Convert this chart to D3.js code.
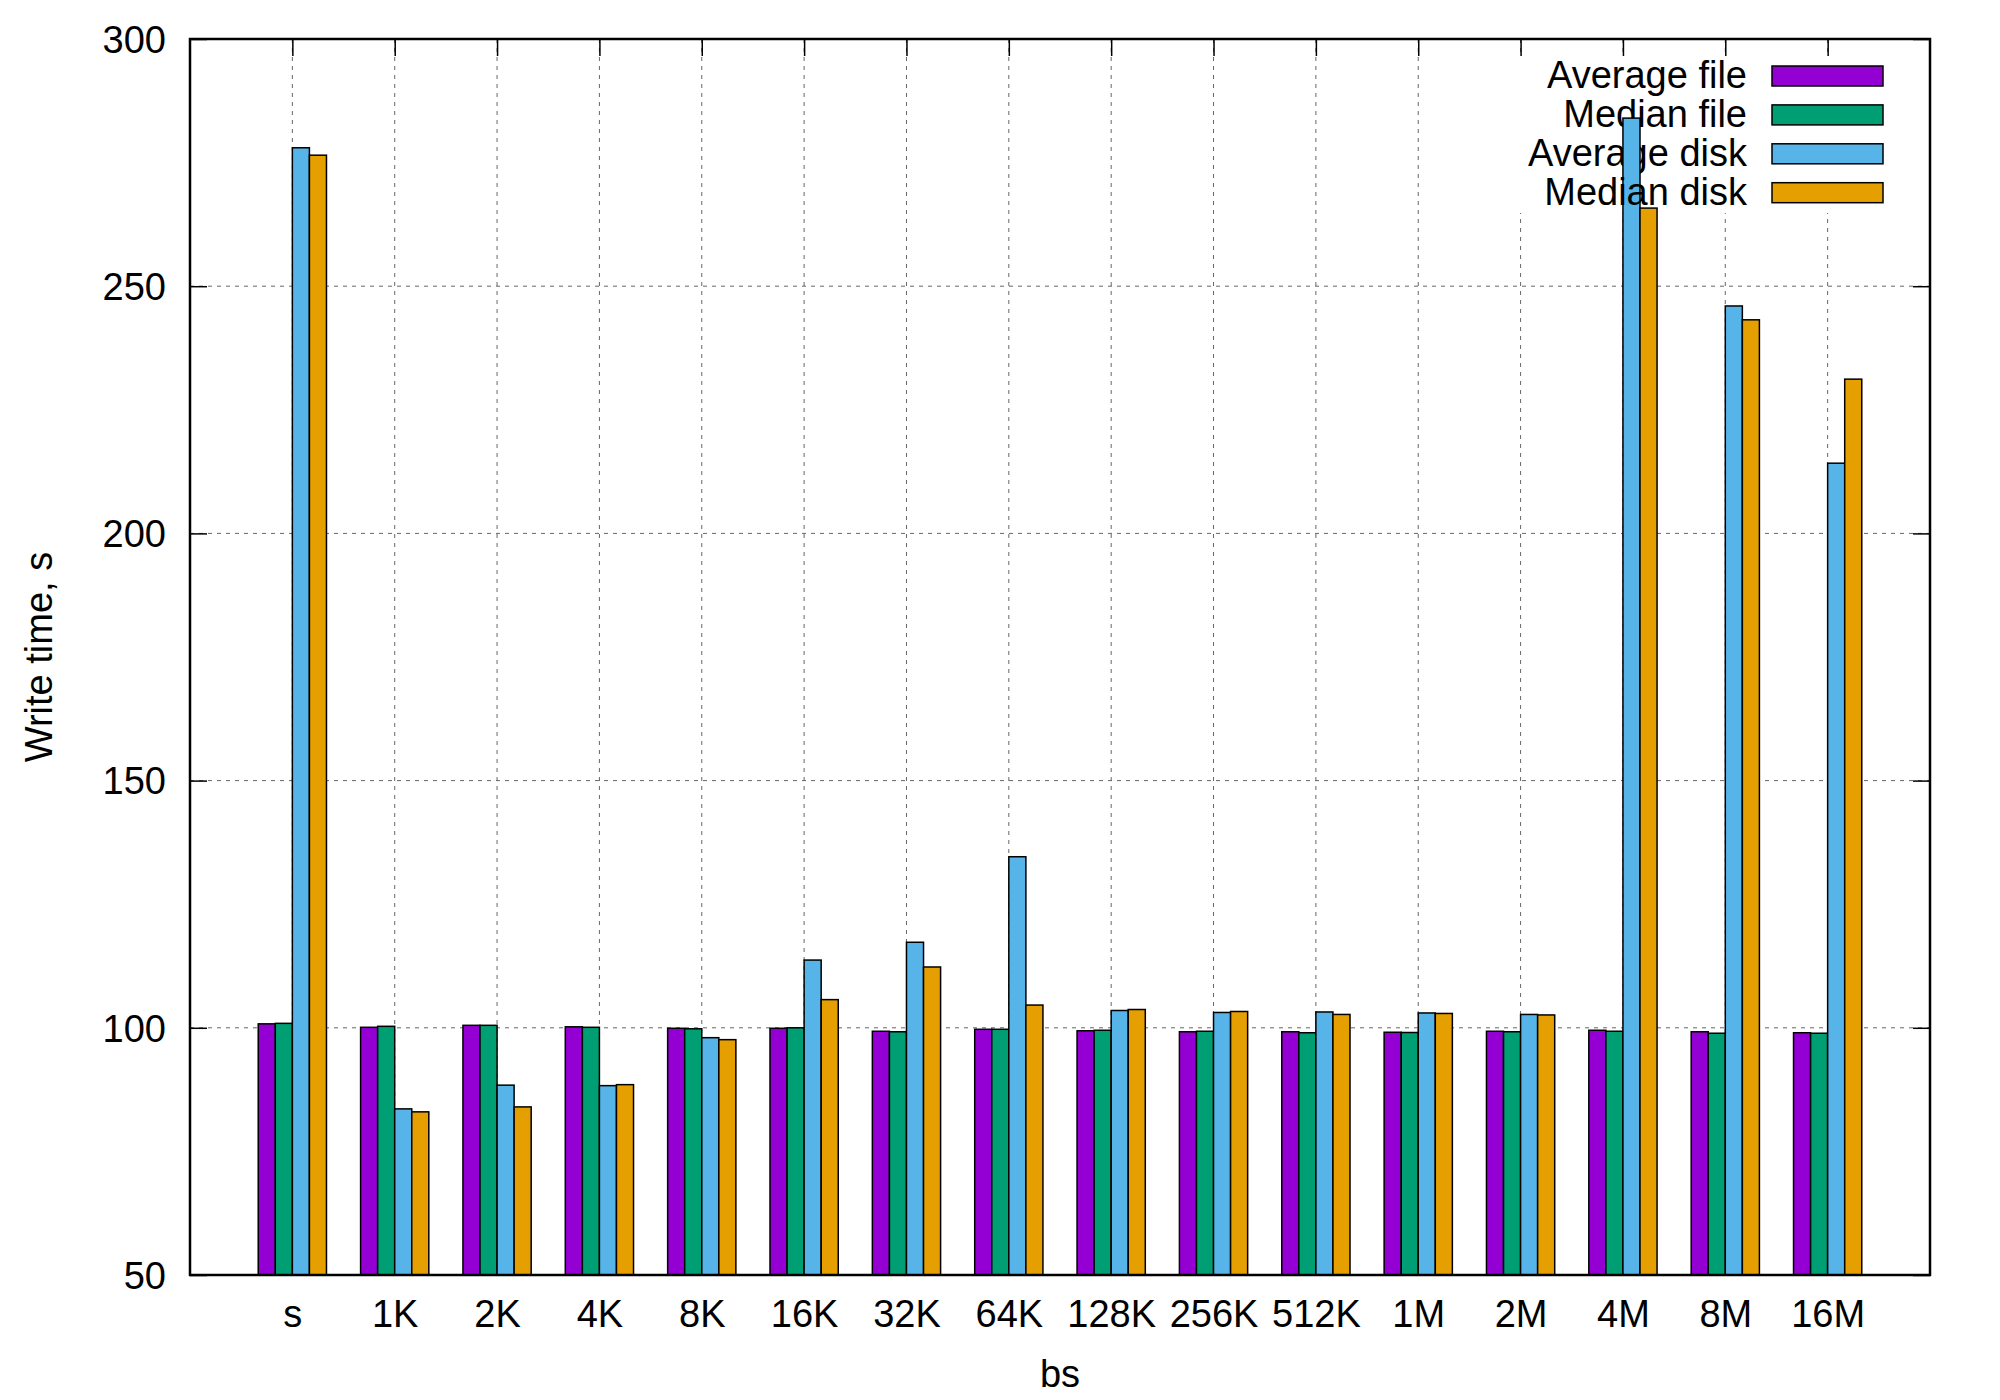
<!DOCTYPE html>
<html>
<head>
<meta charset="utf-8">
<script src="https://cdn.jsdelivr.net/npm/d3@7"></script>
<style>
  body { margin: 0; background: #fff; }
  text { font-family: "Liberation Sans", Arial, sans-serif; fill: #000; }
</style>
</head>
<body>
<svg id="chart" width="2000" height="1400"></svg>
<script>
// block sizes on the x axis
var categories = ["s", "1K", "2K", "4K", "8K", "16K", "32K", "64K", "128K", "256K", "512K", "1M", "2M", "4M", "8M", "16M"];

// write times, seconds
var avgFile = [100.8, 100.1, 100.5, 100.2, 99.9, 99.9, 99.3, 99.7, 99.4, 99.2, 99.2, 99.1, 99.3, 99.5, 99.2, 99.0];
var medFile = [100.9, 100.3, 100.5, 100.1, 99.8, 100.0, 99.2, 99.7, 99.5, 99.3, 99.0, 99.05, 99.2, 99.3, 98.9, 98.9];
var avgDisk = [278.0, 83.6, 88.4, 88.3, 98.0, 113.7, 117.3, 134.6, 103.5, 103.1, 103.2, 103.0, 102.7, 284.0, 246.0, 214.2];
var medDisk = [276.5, 83.0, 84.0, 88.5, 97.6, 105.7, 112.3, 104.6, 103.7, 103.3, 102.7, 102.9, 102.6, 265.8, 243.2, 231.2];

var seriesNames = ["Average file", "Median file", "Average disk", "Median disk"];
var seriesColors = ["#9400d3", "#009e73", "#56b4e9", "#e69f00"];
var yTicks = [50, 100, 150, 200, 250, 300];

var series = [avgFile, medFile, avgDisk, medDisk];

var plotLeft = 190, plotRight = 1930, plotTop = 39, plotBottom = 1275;
var fontSize = 38;

var svg = d3.select("#chart");

var x = d3.scaleLinear().domain([-1, categories.length]).range([plotLeft, plotRight]);
var y = d3.scaleLinear().domain([50, 300]).range([plotBottom, plotTop]);

// bars inside one cluster, in x units
var inner = d3.scaleBand().domain(d3.range(series.length)).range([-1 / 3, 1 / 3]);
var barW = x(inner.bandwidth()) - x(0);

// grid
var grid = svg.append("g").attr("class", "grid")
  .attr("stroke", "#666").attr("stroke-width", 1).attr("stroke-dasharray", "4,5");
grid.selectAll(".gy").data(yTicks.slice(1, -1)).enter().append("line")
  .attr("x1", plotLeft).attr("x2", plotRight)
  .attr("y1", function (d) { return y(d); }).attr("y2", function (d) { return y(d); });
grid.selectAll(".gx").data(d3.range(categories.length)).enter().append("line")
  .attr("y1", plotTop).attr("y2", plotBottom)
  .attr("x1", function (d) { return x(d); }).attr("x2", function (d) { return x(d); });

// axes, ticks point inward
function styleAxis(g) {
  g.select(".domain").remove();
  g.selectAll(".tick line").attr("stroke", "#000").attr("stroke-width", 1.5);
  g.selectAll("text").attr("font-size", fontSize)
    .attr("font-family", "\"Liberation Sans\", Arial, sans-serif").attr("fill", "#000");
}

svg.append("g")
  .attr("transform", "translate(" + plotLeft + ",0)")
  .call(d3.axisLeft(y).tickValues(yTicks).tickSize(-17).tickPadding(24))
  .call(styleAxis)
  .selectAll("text").attr("dy", "0.35em");

svg.append("g")
  .attr("transform", "translate(" + plotRight + ",0)")
  .call(d3.axisRight(y).tickValues(yTicks).tickSize(-17).tickFormat(""))
  .call(styleAxis);

svg.append("g")
  .attr("transform", "translate(0," + plotBottom + ")")
  .call(d3.axisBottom(x).tickValues(d3.range(categories.length))
    .tickFormat(function (i) { return categories[i]; })
    .tickSize(-17).tickPadding(25))
  .call(styleAxis);

svg.append("g")
  .attr("transform", "translate(0," + plotTop + ")")
  .call(d3.axisTop(x).tickValues(d3.range(categories.length)).tickSize(-17).tickFormat(""))
  .call(styleAxis);

// key area hides the grid behind it
svg.append("rect")
  .attr("x", 1508).attr("y", plotTop + 18)
  .attr("width", plotRight - 1508 - 2).attr("height", 213 - plotTop - 18)
  .attr("fill", "#fff");

// each series: key entry first, then its bars (later bars cover earlier key text)
var keyTextX = 1747, keyBoxX = 1772, keyBoxW = 111, keyBoxH = 20, keyY0 = 76, keyStep = 38.9;

series.forEach(function (values, s) {
  var cy = keyY0 + s * keyStep;
  svg.append("text")
    .attr("x", keyTextX).attr("y", cy + 12)
    .attr("text-anchor", "end").attr("font-size", fontSize)
    .text(seriesNames[s]);
  svg.append("rect")
    .attr("x", keyBoxX).attr("y", cy - keyBoxH / 2)
    .attr("width", keyBoxW).attr("height", keyBoxH)
    .attr("fill", seriesColors[s]).attr("stroke", "#000").attr("stroke-width", 1.5);

  svg.append("g").attr("class", "bars-" + s)
    .selectAll("rect").data(values).enter().append("rect")
    .attr("x", function (d, i) { return x(i + inner(s)); })
    .attr("width", barW)
    .attr("y", function (d) { return y(d); })
    .attr("height", function (d) { return y(50) - y(d); })
    .attr("fill", seriesColors[s])
    .attr("stroke", "#000").attr("stroke-width", 1.5);
});

// frame
svg.append("rect")
  .attr("x", plotLeft).attr("y", plotTop)
  .attr("width", plotRight - plotLeft).attr("height", plotBottom - plotTop)
  .attr("fill", "none").attr("stroke", "#000").attr("stroke-width", 2.5);

// axis titles
svg.append("text")
  .attr("x", (plotLeft + plotRight) / 2).attr("y", 1387)
  .attr("text-anchor", "middle").attr("font-size", fontSize)
  .text("bs");

svg.append("text")
  .attr("transform", "translate(52," + (plotTop + plotBottom) / 2 + ") rotate(-90)")
  .attr("text-anchor", "middle").attr("font-size", fontSize)
  .text("Write time, s");
</script>
</body>
</html>
